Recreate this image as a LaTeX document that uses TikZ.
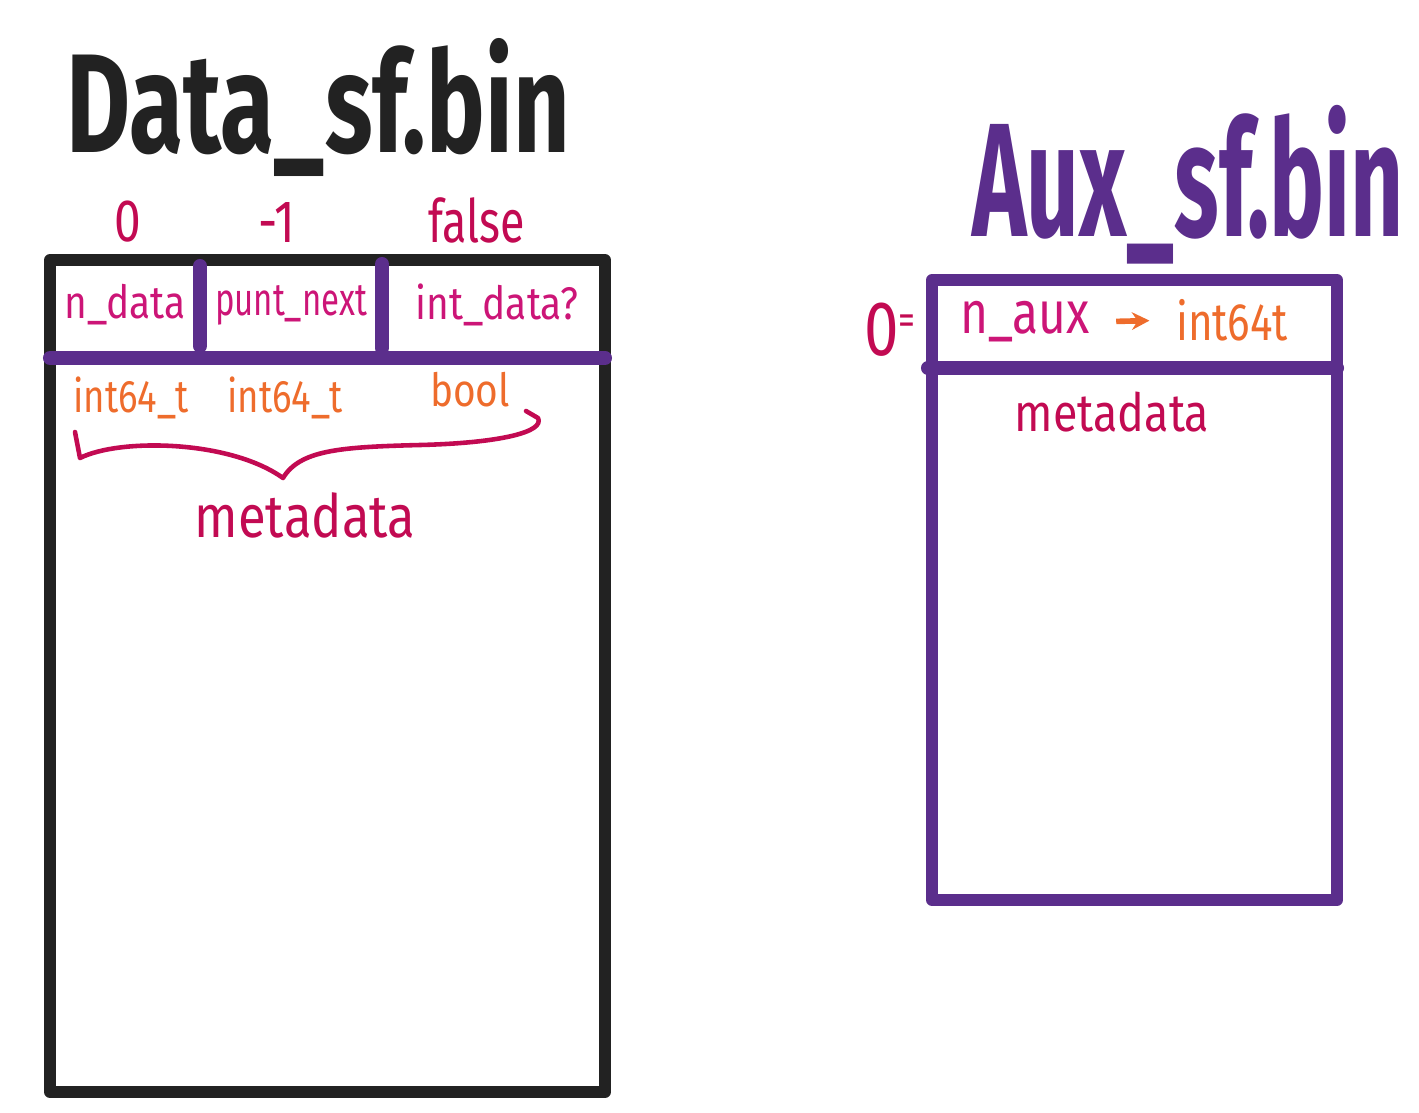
\documentclass[tikz,border=0pt]{standalone}
\usepackage{fontspec}
\setmainfont{Fira Sans}
\usepackage{tikz}
\usetikzlibrary{arrows.meta}

\definecolor{inkblack}{HTML}{222222}
\definecolor{purp}{HTML}{5B2E8C}
\definecolor{crimson}{HTML}{C20A52}
\definecolor{pinkish}{HTML}{CC1577}
\definecolor{orng}{HTML}{EE6C2C}

\newcommand{\fs}[1]{\fontsize{#1}{#1}\selectfont}
\newcommand{\nar}[2][0.8]{\scalebox{#1}[1]{#2}}

\tikzset{
  frame/.style={line width=3.4pt, line join=round, line cap=round},
  divider/.style={purp, line width=4pt, line cap=round},
  field/.style={pinkish, inner sep=0pt, font=\fs{13}},
  ctype/.style={orng, inner sep=0pt, font=\fs{13}},
  value/.style={crimson, inner sep=0pt, font=\fs{17}},
}

\begin{document}
\begin{tikzpicture}[x=0.01cm,y=-0.01cm]

\useasboundingbox (0,0) rectangle (1419,1112);

\node[inkblack, inner sep=0pt, anchor=base, font=\fs{40}\bfseries] (datatitle) at (318,152) {\nar[0.7]{Data\_sf.bin}};

\draw[frame, inkblack] (50,260) rectangle (605,1092);

\draw[divider] (50,358) -- (605,358);

\draw[divider] (200,266) -- (200,346);

\draw[divider] (382,264) -- (382,348);

\node[value] (vzero) at (128,222) {\nar{0}};

\node[value] (vminus) at (277,222) {\nar{-1}};

\node[value] (vfalse) at (477,220) {\nar[0.75]{false}};

\node[field] (ndata) at (125,305) {\nar[0.85]{n\_data}};

\node[field] (puntnext) at (291,305) {\nar[0.72]{punt\_next}};

\node[field] (intdata) at (497,305) {\nar[0.85]{int\_data?}};

\node[ctype] (tyndata) at (131,398) {\nar{int64\_t}};

\node[ctype] (typunt) at (285,398) {\nar{int64\_t}};

\node[ctype] (tybool) at (470,390) {\nar[0.85]{bool}};

\draw[crimson, line width=1.3pt, line cap=round, line join=round] (75,432) -- (80,458) .. controls (120,438) and (230,440) .. (283,478) .. controls (300,450) and (340,447) .. (420,445) .. controls (500,443) and (545,432) .. (538,418) -- (526,411);

\node[value] (datameta) at (305,515) {\nar[0.85]{metadata}};

\node[purp, inner sep=0pt, anchor=base, font=\fs{46}\bfseries] (auxtitle) at (1188,236) {\nar[0.57]{Aux\_sf.bin}};

\draw[frame, purp] (932,280) rectangle (1337,900);

\draw[divider] (928,368) -- (1337,368);

\node[crimson, inner sep=0pt] (auxzero) at (890,330) {\nar{\fs{22}0\raisebox{6pt}{\fs{12}=}}};

\node[pinkish, inner sep=0pt, font=\fs{17}] (naux) at (1025,322) {\nar{n\_aux}};

\node[orng, inner sep=0pt, font=\fs{15}] (auxtype) at (1232,320) {\nar{int64t}};

\draw[orng, line width=1.6pt, shorten <=2.6mm, shorten >=2.6mm, -{Stealth[length=5pt,width=5pt]}] (naux.east) -- (auxtype.west);

\node[crimson, inner sep=0pt, font=\fs{15}] (auxmeta) at (1112,412) {\nar[0.85]{metadata}};

\end{tikzpicture}
\end{document}
